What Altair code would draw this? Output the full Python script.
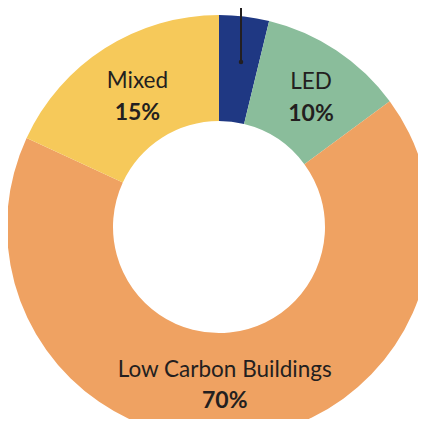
import altair as alt
import pandas as pd

categories = ["Other", "LED", "Low Carbon Buildings", "Mixed"]
shares = [3.8, 11.1, 67.0, 18.1]
label_names = ["", "LED", "Low Carbon Buildings", "Mixed"]
label_pcts = ["", "10%", "70%", "15%"]
colors = ["#1F3883", "#8ABD9B", "#EFA262", "#F6C95A"]

df = pd.DataFrame({
    "category": categories,
    "share": shares,
    "name": label_names,
    "pct": label_pcts,
    "order": list(range(len(categories))),
})

CX, CY = 211, 219
TEXT = "#231F20"
theta_scale = alt.Scale(domain=[0, sum(shares)])

base = alt.Chart(df).transform_stack(
    stack="share", groupby=[], as_=["start", "end"], sort=[alt.SortField("order", order="ascending")]
).transform_calculate(mid="(datum.start + datum.end) / 2")

arcs = base.mark_arc(outerRadius=212, innerRadius=106, stroke=None).encode(
    theta=alt.Theta("start:Q", scale=theta_scale),
    theta2="end:Q",
    color=alt.Color("category:N", scale=alt.Scale(domain=categories, range=colors), legend=None),
    x=alt.value(CX), y=alt.value(CY),
)

# per-label nudges (styling only)
nudges = {
    "Mixed": (3, -14, 18),
    "LED": (5, -14, 18),
    "Low Carbon Buildings": (-10, -13, 18),
}

layers = [arcs]
for cat, (dx, dy_name, dy_pct) in nudges.items():
    sel = base.transform_filter(alt.datum.category == cat)
    layers.append(
        sel.mark_text(radius=157, dx=dx, dy=dy_name, font="Lato", fontSize=22.5, color=TEXT).encode(
            theta=alt.Theta("mid:Q", scale=theta_scale),
            text="name:N", x=alt.value(CX), y=alt.value(CY),
        )
    )
    layers.append(
        sel.mark_text(radius=157, dx=dx, dy=dy_pct, font="Lato", fontSize=23, fontWeight="bold", color=TEXT).encode(
            theta=alt.Theta("mid:Q", scale=theta_scale),
            text="pct:N", x=alt.value(CX), y=alt.value(CY),
        )
    )

leader = alt.Chart(df.head(1)).mark_rule(color=TEXT, strokeWidth=2).encode(
    x=alt.value(233), y=alt.value(0), y2=alt.value(54),
)
dot = alt.Chart(df.head(1)).mark_circle(color=TEXT, opacity=1, size=20).encode(
    x=alt.value(233), y=alt.value(54),
)
layers += [leader, dot]

chart = alt.layer(*layers).properties(
    width=410, height=411, padding=0, autosize=alt.AutoSizeParams(type="none")
).configure_view(stroke=None)

chart.save("out.html", embed_options={"renderer": "svg", "actions": False})
